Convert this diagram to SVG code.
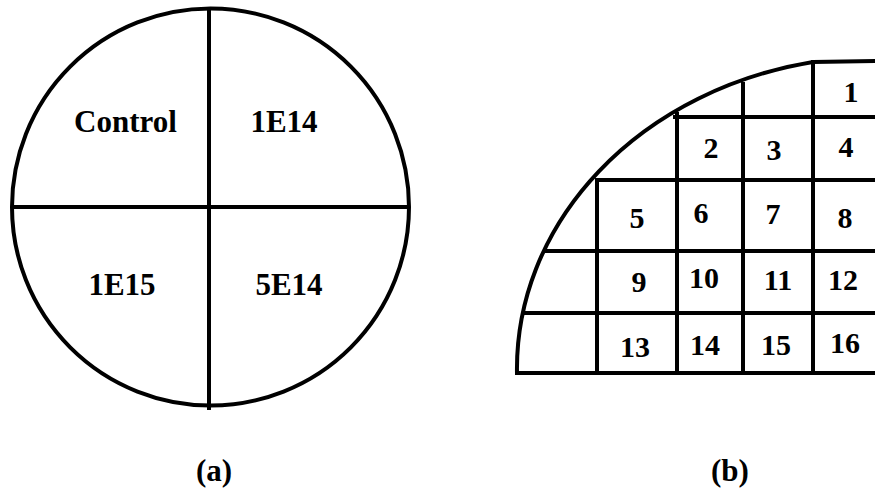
<svg xmlns="http://www.w3.org/2000/svg" width="875" height="491" viewBox="0 0 875 491">
<style>
.ln{fill:none;stroke:#000;stroke-width:4}
.t{font-family:"Liberation Serif","Times New Roman",serif;font-weight:bold;font-size:31px;text-anchor:middle;fill:#000}
.n{font-family:"Liberation Serif","Times New Roman",serif;font-weight:bold;font-size:30px;text-anchor:middle;fill:#000}
</style>
<rect width="875" height="491" fill="#fff"/>
<g id="wafer-a">
<circle class="ln" cx="210.5" cy="207" r="198.5"/>
<line class="ln" x1="209" y1="10" x2="209" y2="410"/>
<line class="ln" x1="12" y1="207" x2="410" y2="207"/>
<text class="t" x="125.5" y="132">Control</text>
<text class="t" x="284" y="132">1E14</text>
<text class="t" x="122" y="295">1E15</text>
<text class="t" x="289" y="295">5E14</text>
<text class="t" x="214" y="481">(a)</text>
</g>
<g id="wafer-b">
<path class="ln" d="M517,375 L517,373 A364,312 0 0 1 813,62 L880,61"/>
<line class="ln" x1="515" y1="373" x2="880" y2="373"/>
<line class="ln" x1="673" y1="117" x2="880" y2="117"/>
<line class="ln" x1="596" y1="180" x2="880" y2="180"/>
<line class="ln" x1="545" y1="251" x2="880" y2="251"/>
<line class="ln" x1="523" y1="313" x2="880" y2="313"/>
<line class="ln" x1="597" y1="178" x2="597" y2="375"/>
<line class="ln" x1="677" y1="112" x2="677" y2="375"/>
<line class="ln" x1="743" y1="82" x2="743" y2="375"/>
<line class="ln" x1="813" y1="60" x2="813" y2="375"/>
<text class="n" x="851" y="102">1</text>
<text class="n" x="711" y="158">2</text>
<text class="n" x="774" y="160">3</text>
<text class="n" x="846" y="157">4</text>
<text class="n" x="637" y="228">5</text>
<text class="n" x="701" y="223">6</text>
<text class="n" x="773" y="224">7</text>
<text class="n" x="845" y="228">8</text>
<text class="n" x="639" y="292">9</text>
<text class="n" x="704" y="288">10</text>
<text class="n" x="778" y="290">11</text>
<text class="n" x="843" y="290">12</text>
<text class="n" x="635" y="357">13</text>
<text class="n" x="705" y="355">14</text>
<text class="n" x="776" y="355">15</text>
<text class="n" x="845" y="353">16</text>
<text class="t" x="730" y="481">(b)</text>
</g>
</svg>
